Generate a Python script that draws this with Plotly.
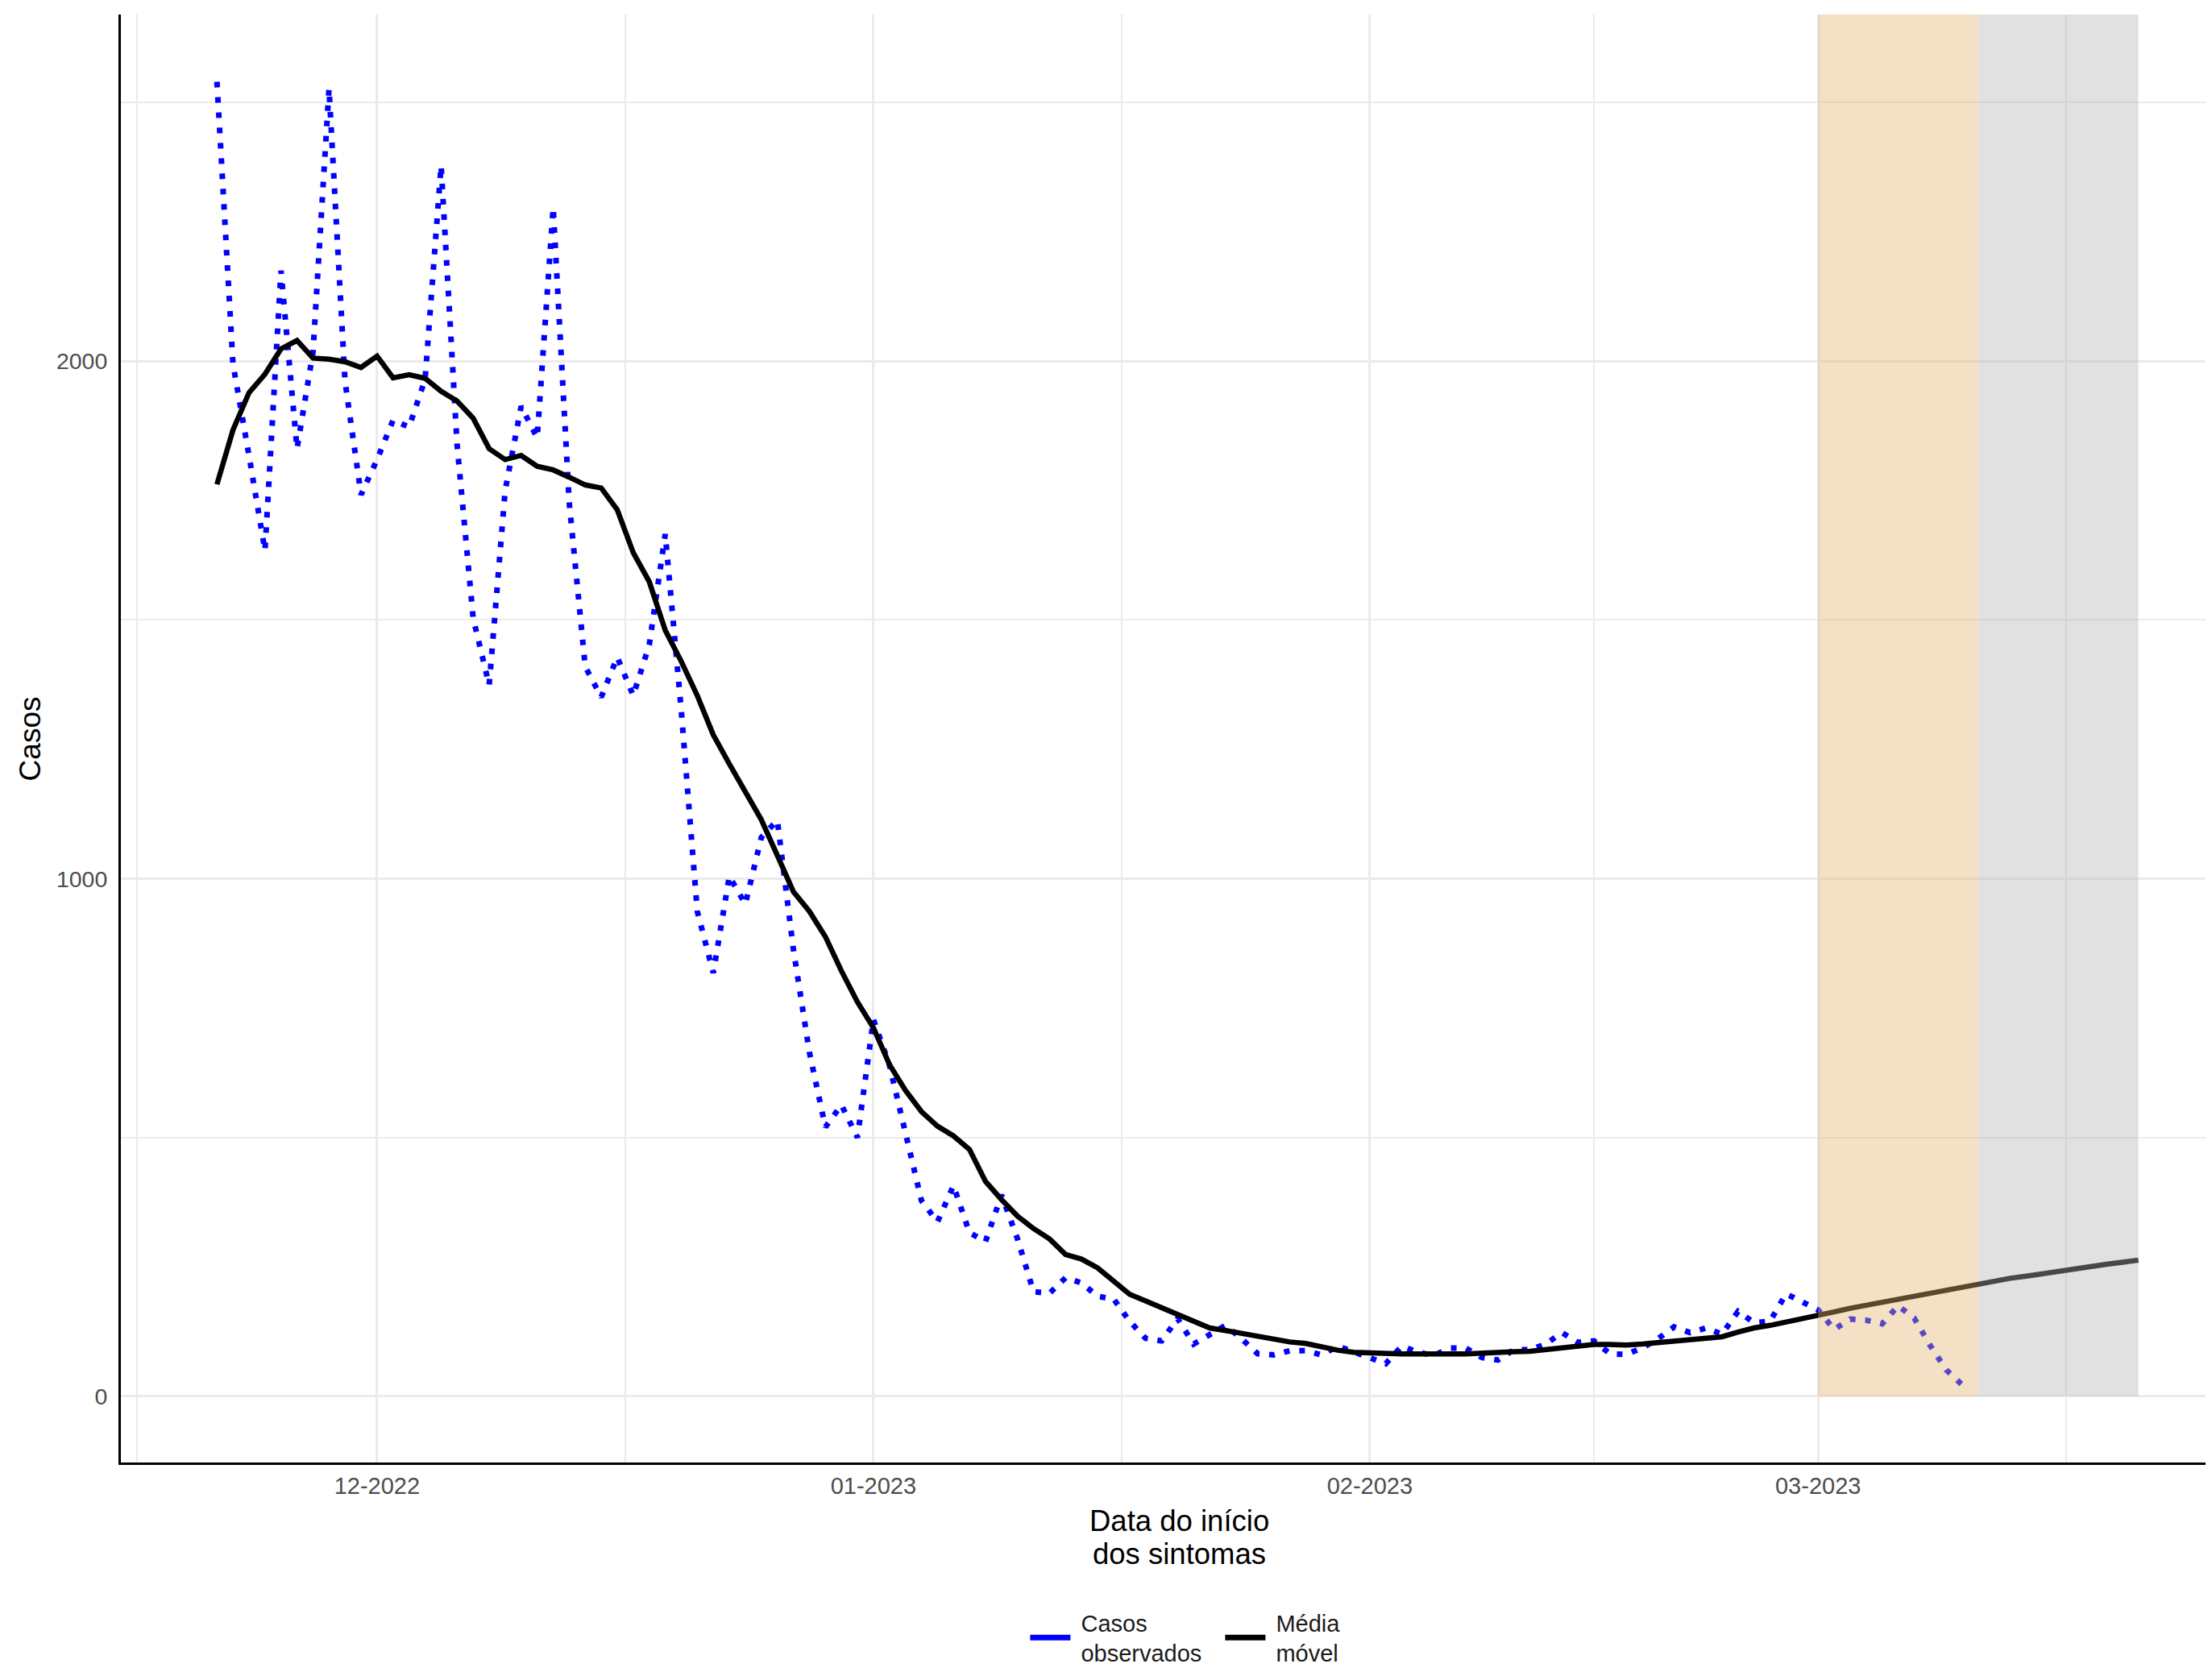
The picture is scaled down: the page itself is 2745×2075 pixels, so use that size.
import pandas as pd
import plotly.graph_objects as go

START_DATE = "2022-11-21"

# casos observados por dia (21/11/2022 a 10/03/2023)
CASOS_OBSERVADOS = [
    2540, 1995, 1818, 1634, 2175, 1831, 2018, 2527, 1961, 1742,
    1810, 1886, 1873, 1965, 2378, 1838, 1504, 1374, 1750, 1913,
    1852, 2297, 1727, 1410, 1351, 1428, 1354, 1452, 1666, 1325,
    937, 818, 1005, 951, 1080, 1113, 864, 665, 520, 563,
    500, 728, 640, 513, 378, 337, 407, 316, 299, 389,
    304, 202, 199, 229, 219, 193, 188, 145, 112, 107,
    150, 101, 119, 137, 111, 82, 80, 88, 88, 80,
    97, 85, 75, 63, 97, 85, 79, 93, 93, 75,
    70, 90, 90, 101, 123, 104, 107, 82, 81, 93,
    111, 134, 123, 132, 120, 164, 142, 145, 198, 181,
    167, 129, 149, 147, 140, 175, 151, 98, 51, 22,
]

# media movel (21/11/2022 a 21/03/2023)
MEDIA_MOVEL = [
    1762, 1867, 1939, 1975, 2024, 2040, 2006, 2004, 1999, 1988,
    2010, 1968, 1974, 1967, 1942, 1923, 1890, 1831, 1810, 1818,
    1797, 1790, 1776, 1761, 1755, 1713, 1630, 1574, 1480, 1420,
    1354, 1278, 1222, 1167, 1114, 1045, 975, 937, 888, 822,
    762, 712, 641, 591, 550, 522, 503, 477, 415, 380,
    348, 324, 304, 274, 265, 248, 222, 197, 184, 171,
    158, 144, 132, 127, 121, 116, 111, 105, 102, 95,
    89, 85, 84, 81, 82, 82, 81, 82, 82, 84,
    85, 86, 87, 90, 94, 95, 100, 100, 99, 101,
    104, 106, 108, 111, 115, 124, 132, 137, 143, 150,
    157, 163, 170, 176, 182, 188, 194, 200, 206, 212,
    218, 223, 228, 232, 237, 241, 246, 250, 255, 259,
    263,
]

MONTH_TICKS = ["2022-12-01", "2023-01-01", "2023-02-01", "2023-03-01"]
MONTH_LABELS = ["12-2022", "01-2023", "02-2023", "03-2023"]
MINOR_TICKS = ["2022-11-16", "2022-12-16 12:00", "2023-01-16 12:00",
               "2023-02-15", "2023-03-16 12:00"]
Y_TICKS = [0, 1000, 2000]
Y_MINOR = [500, 1500, 2500]

BAND_ORANGE = ("2023-03-01", "2023-03-11")
BAND_GREY = ("2023-03-11", "2023-03-21")

X_RANGE = ["2022-11-15", "2023-03-25 14:24"]
Y_RANGE = [-128, 2670]

FONT = "Liberation Sans, Arial, sans-serif"
GRID = "#EBEBEB"
NBSP = "\u00a0"

obs_dates = pd.date_range(START_DATE, periods=len(CASOS_OBSERVADOS), freq="D")
mm_dates = pd.date_range(START_DATE, periods=len(MEDIA_MOVEL), freq="D")

fig = go.Figure()

fig.add_trace(go.Scatter(
    x=obs_dates, y=CASOS_OBSERVADOS, mode="lines", showlegend=False,
    line=dict(color="blue", width=7, dash="7px,12px"),
))
fig.add_trace(go.Scatter(
    x=mm_dates, y=MEDIA_MOVEL, mode="lines", showlegend=False,
    line=dict(color="black", width=6.5),
))

# legend keys are solid lines, as in the original
fig.add_trace(go.Scatter(
    x=[None], y=[None], mode="lines",
    name=f"{NBSP}Casos<br>{NBSP}observados",
    line=dict(color="blue", width=7),
))
fig.add_trace(go.Scatter(
    x=[None], y=[None], mode="lines",
    name=f"{NBSP}Média<br>{NBSP}móvel",
    line=dict(color="black", width=7),
))

fig.add_shape(
    type="rect", xref="x", yref="y",
    x0=BAND_ORANGE[0], x1=BAND_ORANGE[1], y0=0, y1=Y_RANGE[1],
    fillcolor="rgba(225,177,110,0.4)", line_width=0, layer="above",
)
fig.add_shape(
    type="rect", xref="x", yref="y",
    x0=BAND_GREY[0], x1=BAND_GREY[1], y0=0, y1=Y_RANGE[1],
    fillcolor="rgba(179,179,179,0.4)", line_width=0, layer="above",
)

fig.update_xaxes(
    type="date", range=X_RANGE,
    tickmode="array", tickvals=MONTH_TICKS, ticktext=MONTH_LABELS,
    showgrid=True, gridcolor=GRID, gridwidth=3,
    minor=dict(tickmode="array", tickvals=MINOR_TICKS, showgrid=True,
               gridcolor=GRID, gridwidth=1.5),
    showline=True, linecolor="black", linewidth=3,
    ticks="", ticklabelstandoff=1, zeroline=False,
    tickfont=dict(family=FONT, size=29, color="#4D4D4D"),
)
fig.update_yaxes(
    range=Y_RANGE, tickmode="array", tickvals=Y_TICKS,
    showgrid=True, gridcolor=GRID, gridwidth=3,
    minor=dict(tickmode="array", tickvals=Y_MINOR, showgrid=True,
               gridcolor=GRID, gridwidth=1.5),
    showline=True, linecolor="black", linewidth=3,
    ticks="", ticklabelstandoff=8, zeroline=False,
    tickfont=dict(family=FONT, size=28.5, color="#4D4D4D"),
)

for text, ypos in [("Data do início", -0.0401), ("dos sintomas", -0.0634)]:
    fig.add_annotation(
        text=text, xref="paper", yref="paper", x=0.506, y=ypos,
        xanchor="center", yanchor="middle", showarrow=False,
        font=dict(family=FONT, size=36.5, color="black"),
    )
fig.add_annotation(
    text="Casos", xref="paper", yref="paper", textangle=-90,
    x=-0.0432, y=0.5, xanchor="center", yanchor="middle", showarrow=False,
    font=dict(family=FONT, size=37, color="black"),
)

fig.update_layout(
    width=2737, height=2067,
    margin=dict(l=142, r=0, t=10, b=260, autoexpand=False),
    plot_bgcolor="white", paper_bgcolor="white",
    font=dict(family=FONT),
    legend=dict(
        orientation="h", x=0.4329, xanchor="left",
        yref="container", y=0.0205, yanchor="middle",
        font=dict(family=FONT, size=29, color="#1A1A1A"),
        itemwidth=50, entrywidth=177, bgcolor="rgba(0,0,0,0)",
    ),
)

fig.write_html("out.html")
